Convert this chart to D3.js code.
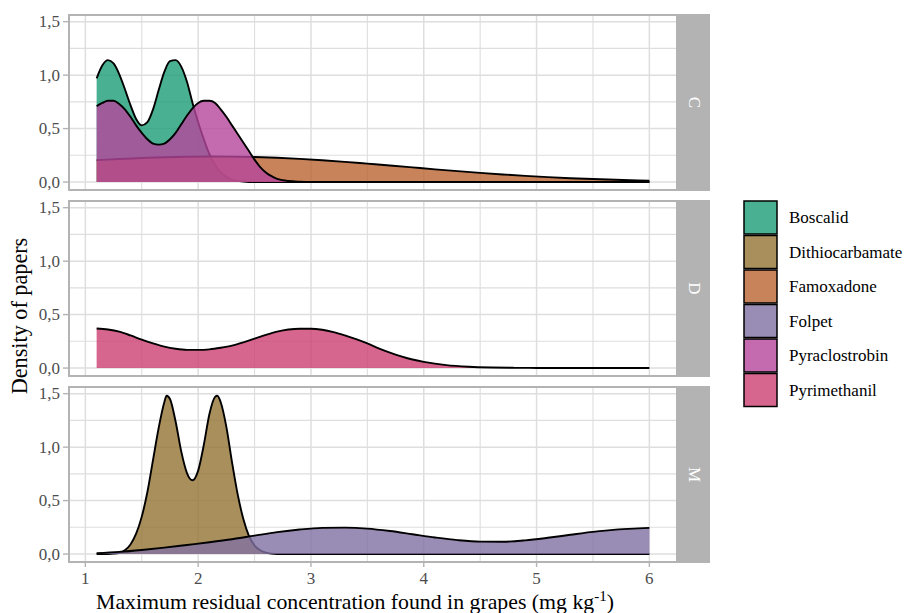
<!DOCTYPE html>
<html>
<head>
<meta charset="utf-8">
<script src="https://cdn.jsdelivr.net/npm/d3@7"></script>
<style>
  body { margin: 0; background: #fff; }
  text { font-family: "Liberation Serif", "Times New Roman", serif; }
</style>
</head>
<body>
<svg id="chart" width="909" height="613"></svg>
<script>
// facets and fungicides
const facets = ['C', 'D', 'M'];
const fungicides = ['Boscalid', 'Dithiocarbamate', 'Famoxadone', 'Folpet', 'Pyraclostrobin', 'Pyrimethanil'];
const fillColours = ['#1B9E77', '#937332', '#BA6431', '#8170A2', '#B5469C', '#CD4072'];
const xTicks = [1, 2, 3, 4, 5, 6];
const yTicks = [0, 0.5, 1, 1.5];
const yTickLabels = ['0,0', '0,5', '1,0', '1,5'];

// density curves (x in mg/kg, y = density)
const boscalidX = [1.1, 1.15, 1.2, 1.25, 1.3, 1.35, 1.4, 1.45, 1.5, 1.55, 1.6, 1.65, 1.7, 1.75, 1.8, 1.85, 1.9, 1.95, 2.0, 2.05, 2.1, 2.15, 2.2, 2.25, 2.3, 2.4, 2.5, 6.0];
const boscalidY = [0.97, 1.09, 1.14, 1.11, 1.01, 0.87, 0.72, 0.59, 0.53, 0.56, 0.68, 0.86, 1.03, 1.13, 1.14, 1.08, 0.94, 0.74, 0.56, 0.40, 0.26, 0.16, 0.09, 0.05, 0.02, 0.005, 0, 0];

const famoxadoneX = [1.1, 1.3, 1.5, 1.7, 1.9, 2.1, 2.3, 2.5, 2.7, 2.9, 3.1, 3.3, 3.5, 3.7, 3.9, 4.1, 4.3, 4.5, 4.7, 4.9, 5.1, 5.3, 5.5, 5.7, 5.9, 6.0];
const famoxadoneY = [0.205, 0.215, 0.225, 0.232, 0.237, 0.239, 0.238, 0.234, 0.227, 0.217, 0.204, 0.189, 0.172, 0.155, 0.137, 0.119, 0.102, 0.086, 0.071, 0.058, 0.046, 0.036, 0.028, 0.021, 0.015, 0.012];

const pyraclostrobinX = [1.1, 1.15, 1.2, 1.25, 1.3, 1.35, 1.4, 1.45, 1.5, 1.55, 1.6, 1.65, 1.7, 1.75, 1.8, 1.85, 1.9, 1.95, 2.0, 2.05, 2.1, 2.15, 2.2, 2.25, 2.3, 2.35, 2.4, 2.45, 2.5, 2.55, 2.6, 2.65, 2.7, 2.8, 2.9, 3.0, 6.0];
const pyraclostrobinY = [0.71, 0.74, 0.76, 0.76, 0.73, 0.68, 0.61, 0.53, 0.46, 0.40, 0.36, 0.35, 0.36, 0.40, 0.46, 0.54, 0.62, 0.69, 0.74, 0.76, 0.76, 0.74, 0.68, 0.61, 0.53, 0.45, 0.37, 0.29, 0.21, 0.14, 0.09, 0.055, 0.03, 0.01, 0.003, 0, 0];

const pyrimethanilX = [1.1, 1.2, 1.3, 1.4, 1.5, 1.6, 1.7, 1.8, 1.9, 2.0, 2.1, 2.2, 2.3, 2.4, 2.5, 2.6, 2.7, 2.8, 2.9, 3.0, 3.1, 3.2, 3.3, 3.4, 3.5, 3.6, 3.7, 3.8, 3.9, 4.0, 4.2, 4.4, 4.6, 4.8, 5.0, 5.5, 6.0];
const pyrimethanilY = [0.37, 0.36, 0.34, 0.305, 0.265, 0.23, 0.20, 0.18, 0.17, 0.17, 0.175, 0.19, 0.21, 0.24, 0.275, 0.31, 0.34, 0.36, 0.368, 0.368, 0.358, 0.336, 0.305, 0.27, 0.23, 0.185, 0.145, 0.11, 0.08, 0.058, 0.027, 0.012, 0.005, 0.002, 0.001, 0, 0];

const dithiocarbamateX = [1.1, 1.2, 1.25, 1.3, 1.35, 1.4, 1.45, 1.5, 1.55, 1.6, 1.65, 1.7, 1.72, 1.75, 1.8, 1.85, 1.9, 1.95, 2.0, 2.05, 2.1, 2.15, 2.17, 2.2, 2.25, 2.3, 2.35, 2.4, 2.45, 2.5, 2.55, 2.6, 2.65, 2.7, 2.8, 6.0];
const dithiocarbamateY = [0, 0.001, 0.004, 0.012, 0.035, 0.09, 0.19, 0.35, 0.58, 0.88, 1.18, 1.42, 1.48, 1.45, 1.24, 0.96, 0.76, 0.69, 0.78, 1.02, 1.31, 1.47, 1.48, 1.42, 1.19, 0.86, 0.56, 0.33, 0.17, 0.08, 0.035, 0.013, 0.004, 0.001, 0, 0];

const folpetX = [1.1, 1.3, 1.5, 1.7, 1.9, 2.1, 2.3, 2.5, 2.7, 2.9, 3.1, 3.3, 3.5, 3.7, 3.9, 4.1, 4.3, 4.5, 4.7, 4.9, 5.1, 5.3, 5.5, 5.7, 5.9, 6.0];
const folpetY = [0.008, 0.02, 0.038, 0.06, 0.085, 0.11, 0.138, 0.172, 0.205, 0.23, 0.245, 0.247, 0.238, 0.215, 0.185, 0.155, 0.13, 0.116, 0.115, 0.128, 0.152, 0.18, 0.207, 0.228, 0.24, 0.245];

const series = [
    { facet: 'C', name: 'Boscalid', xs: boscalidX, ys: boscalidY },
    { facet: 'C', name: 'Famoxadone', xs: famoxadoneX, ys: famoxadoneY },
    { facet: 'C', name: 'Pyraclostrobin', xs: pyraclostrobinX, ys: pyraclostrobinY },
    { facet: 'D', name: 'Pyrimethanil', xs: pyrimethanilX, ys: pyrimethanilY },
    { facet: 'M', name: 'Dithiocarbamate', xs: dithiocarbamateX, ys: dithiocarbamateY },
    { facet: 'M', name: 'Folpet', xs: folpetX, ys: folpetY }
];

const svg = d3.select('#chart');
const panelLeft = 69, panelRight = 677;
const panelTops = [15, 201, 387];
const panelHeight = 175;
const stripWidth = 32;

const colour = d3.scaleOrdinal().domain(fungicides).range(fillColours);

const x = d3.scaleLinear()
    .domain([0.855, 6.245])
    .range([panelLeft, panelRight]);

const grid = '#DEDEDE';
const border = '#B3B3B3';

facets.forEach((facet, i) => {
    const top = panelTops[i];
    const y = d3.scaleLinear()
        .domain([-0.0744, 1.5624])
        .range([top + panelHeight, top]);

    const g = svg.append('g');

    // minor grid
    g.selectAll('.xminor').data([1.5, 2.5, 3.5, 4.5, 5.5]).enter()
        .append('line')
        .attr('x1', d => x(d)).attr('x2', d => x(d))
        .attr('y1', top).attr('y2', top + panelHeight)
        .attr('stroke', grid).attr('stroke-width', 1.1);
    g.selectAll('.yminor').data([0.25, 0.75, 1.25]).enter()
        .append('line')
        .attr('x1', panelLeft).attr('x2', panelRight)
        .attr('y1', d => y(d)).attr('y2', d => y(d))
        .attr('stroke', grid).attr('stroke-width', 1.1);
    // major grid
    g.selectAll('.xmajor').data(xTicks).enter()
        .append('line')
        .attr('x1', d => x(d)).attr('x2', d => x(d))
        .attr('y1', top).attr('y2', top + panelHeight)
        .attr('stroke', grid).attr('stroke-width', 1.5);
    g.selectAll('.ymajor').data(yTicks).enter()
        .append('line')
        .attr('x1', panelLeft).attr('x2', panelRight)
        .attr('y1', d => y(d)).attr('y2', d => y(d))
        .attr('stroke', grid).attr('stroke-width', 1.5);

    // densities, alphabetical order inside the panel
    const area = d3.area()
        .x(d => x(d[0]))
        .y0(y(0))
        .y1(d => y(d[1]))
        .curve(d3.curveMonotoneX);
    const line = d3.line()
        .x(d => x(d[0]))
        .y(d => y(d[1]))
        .curve(d3.curveMonotoneX);

    series.filter(s => s.facet === facet).forEach(s => {
        const pts = s.xs.map((v, k) => [v, s.ys[k]]);
        g.append('path')
            .attr('d', area(pts))
            .attr('fill', colour(s.name))
            .attr('fill-opacity', 0.8);
        g.append('path')
            .attr('d', line(pts))
            .attr('fill', 'none')
            .attr('stroke', '#000')
            .attr('stroke-width', 1.9);
    });

    // panel border
    g.append('rect')
        .attr('x', panelLeft).attr('y', top)
        .attr('width', panelRight - panelLeft).attr('height', panelHeight)
        .attr('fill', 'none').attr('stroke', border).attr('stroke-width', 2);

    // strip
    g.append('rect')
        .attr('x', panelRight + 1).attr('y', top - 1)
        .attr('width', stripWidth).attr('height', panelHeight + 2)
        .attr('fill', border);
    g.append('text')
        .attr('transform', `translate(${panelRight + 1 + stripWidth / 2},${top + panelHeight / 2}) rotate(90)`)
        .attr('text-anchor', 'middle')
        .attr('dominant-baseline', 'central')
        .attr('fill', '#fff')
        .attr('font-size', 17)
        .text(facet);

    // y axis
    g.selectAll('.ytick').data(yTicks).enter()
        .append('line')
        .attr('x1', panelLeft - 6).attr('x2', panelLeft)
        .attr('y1', d => y(d)).attr('y2', d => y(d))
        .attr('stroke', border).attr('stroke-width', 1.4);
    g.selectAll('.ylab').data(yTicks).enter()
        .append('text')
        .attr('x', panelLeft - 9)
        .attr('y', d => y(d))
        .attr('text-anchor', 'end')
        .attr('dominant-baseline', 'central')
        .attr('fill', '#4D4D4D')
        .attr('font-size', 17)
        .text((d, k) => yTickLabels[k]);

    // x axis on the bottom panel only
    if (i === facets.length - 1) {
        const bottom = top + panelHeight;
        g.selectAll('.xtick').data(xTicks).enter()
            .append('line')
            .attr('x1', d => x(d)).attr('x2', d => x(d))
            .attr('y1', bottom).attr('y2', bottom + 5)
            .attr('stroke', border).attr('stroke-width', 1.4);
        g.selectAll('.xlab').data(xTicks).enter()
            .append('text')
            .attr('x', d => x(d))
            .attr('y', bottom + 22)
            .attr('text-anchor', 'middle')
            .attr('fill', '#4D4D4D')
            .attr('font-size', 17)
            .text(d => d);
    }
});

// axis titles
const xTitle = svg.append('text')
    .attr('x', 355)
    .attr('y', 609)
    .attr('text-anchor', 'middle')
    .attr('font-size', 21.8)
    .attr('fill', '#000');
xTitle.append('tspan').text('Maximum residual concentration found in grapes (mg kg');
xTitle.append('tspan').attr('font-size', 15).attr('dy', -8).text('-1');
xTitle.append('tspan').attr('dy', 8).text(')');

svg.append('text')
    .attr('transform', 'translate(27,316) rotate(-90)')
    .attr('text-anchor', 'middle')
    .attr('font-size', 22.2)
    .attr('fill', '#000')
    .text('Density of papers');

// legend
const legend = svg.append('g').attr('transform', 'translate(744,201)');
const keySize = 33, keyStep = 34.5;
fungicides.forEach((name, k) => {
    legend.append('rect')
        .attr('x', 0).attr('y', k * keyStep)
        .attr('width', keySize).attr('height', keySize)
        .attr('fill', colour(name)).attr('fill-opacity', 0.8)
        .attr('stroke', '#000').attr('stroke-width', 1.5);
    legend.append('text')
        .attr('x', 45).attr('y', k * keyStep + keySize / 2)
        .attr('dominant-baseline', 'central')
        .attr('font-size', 17)
        .attr('fill', '#000')
        .text(name);
});
</script>
</body>
</html>
